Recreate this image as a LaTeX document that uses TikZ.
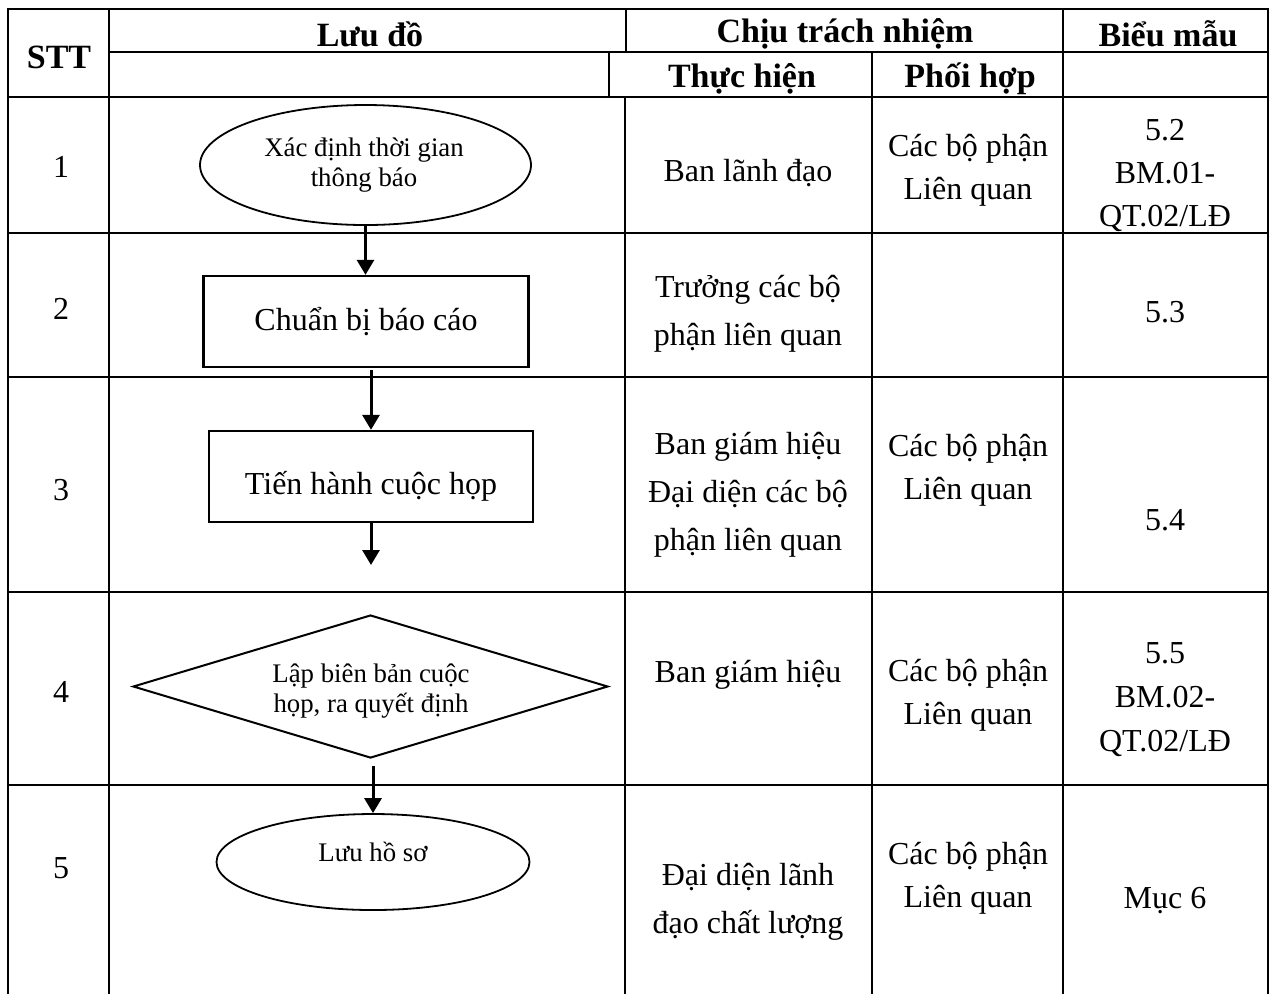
\documentclass[tikz,border=0pt]{standalone}
\usepackage{fontspec}
\setmainfont{Liberation Serif}
\usetikzlibrary{shapes.geometric,arrows.meta}
\begin{document}
\begin{tikzpicture}[x=0.5pt,y=-0.5pt,
  tbl/.style={line width=1.4pt,line cap=rect},
  hdr/.style={inner sep=0pt,yshift=-1.5pt,font=\fontsize{17}{20}\selectfont\bfseries},
  cell/.style={inner sep=0pt,align=center,yshift=-1.75pt,font=\fontsize{16}{21.5}\selectfont},
  cellw/.style={cell,font=\fontsize{16}{24}\selectfont},
  sm/.style={inner sep=0pt,align=center,font=\fontsize{13.4}{15}\selectfont},
  shp/.style={draw,line width=1pt,inner sep=0pt},
  arr/.style={line width=1.5pt,-{Triangle[width=8.5pt,length=7.5pt]}}]
\useasboundingbox (0,0) rectangle (1272,993);

% table grid
\draw[tbl] (8,9) -- (1268,9);
\draw[tbl] (109,52) -- (1268,52);
\foreach \y in {97,233,377,592,785} \draw[tbl] (8,\y) -- (1268,\y);
\foreach \x in {8,109,1063,1268} \draw[tbl] (\x,9) -- (\x,993);
\draw[tbl] (626,9) -- (626,52);
\draw[tbl] (609,52) -- (609,97);
\draw[tbl] (625,97) -- (625,993);
\draw[tbl] (872,52) -- (872,993);

% header
\node[hdr] (hstt) at (59,54) {STT};
\node[hdr] (hluu) at (370,31) {Lưu đồ};
\node[hdr] (hctn) at (845,31) {Chịu trách nhiệm};
\node[hdr] (hbm) at (1168,31) {Biểu mẫu};
\node[hdr] (hth) at (742,76) {Thực hiện};
\node[hdr] (hph) at (970,76) {Phối hợp};

% STT numbers
\node[cell,yshift=0.75pt] (n1) at (61,165) {1};
\node[cell,yshift=0.75pt] (n2) at (61,307) {2};
\node[cell,yshift=0.75pt] (n3) at (61,488) {3};
\node[cell,yshift=0.75pt] (n4) at (61,690) {4};
\node[cell,yshift=0.75pt] (n5) at (61,866) {5};

% flowchart
\node[shp,ellipse,line width=0.9pt,minimum width=165.5pt,minimum height=60pt] (e1) at (365.5,165) {};
\node[sm] (t1) at (364,165) {Xác định thời gian\\thông báo};
\node[shp,line width=1.2pt,minimum width=162.5pt,minimum height=45.5pt,font=\fontsize{16}{20}\selectfont] (r2) at (366,321.5) {Chuẩn bị báo cáo};
\node[shp,line width=1.2pt,minimum width=162pt,minimum height=45.5pt,font=\fontsize{16}{20}\selectfont] (r3) at (371,476.5) {\raisebox{-5pt}[\height][\depth]{Tiến hành cuộc họp}};
\coordinate (c3) at (371,565);
\node[shp,diamond,shape aspect=3.32,minimum width=237.5pt,minimum height=71.5pt] (d4) at (370.5,686.5) {};
\node[sm] (t4) at (371,691) {Lập biên bản cuộc\\họp, ra quyết định};
\node[shp,ellipse,line width=0.9pt,minimum width=156.5pt,minimum height=48pt,font=\fontsize{13.4}{15}\selectfont] (e5) at (373,862) {\raisebox{5pt}[\height][\depth]{Lưu hồ sơ}};

\draw[arr] (e1.south) -- (e1.south |- r2.north);
\draw[arr] ([yshift=-1pt]r2.south -| r3.north) -- (r3.north);
\draw[arr] (r3.south) -- (c3);
\draw[arr] ([yshift=-3.5pt]d4.south -| e5.north) -- (e5.north);

% responsibility and form cells
\node[cell] (a1) at (748,170) {Ban lãnh đạo};
\node[cell] (b1) at (968,167) {Các bộ phận\\Liên quan};
\node[cell] (c1) at (1165,172) {5.2\\BM.01-\\QT.02/LĐ};
\node[cellw] (a2) at (748,310) {Trưởng các bộ\\phận liên quan};
\node[cell,yshift=0.75pt] (c2) at (1165,310) {5.3};
\node[cellw] (a3) at (748,491) {Ban giám hiệu\\Đại diện các bộ\\phận liên quan};
\node[cell] (b3) at (968,467) {Các bộ phận\\Liên quan};
\node[cell] (c3b) at (1165,517) {5.4};
\node[cell] (a4) at (748,671) {Ban giám hiệu};
\node[cell] (b4) at (968,692) {Các bộ phận\\Liên quan};
\node[cell,font=\fontsize{16}{22}\selectfont] (c4) at (1165,696) {5.5\\BM.02-\\QT.02/LĐ};
\node[cellw] (a5) at (748,898) {Đại diện lãnh\\đạo chất lượng};
\node[cell] (b5) at (968,875) {Các bộ phận\\Liên quan};
\node[cell] (c5) at (1165,897) {Mục 6};
\end{tikzpicture}
\end{document}
